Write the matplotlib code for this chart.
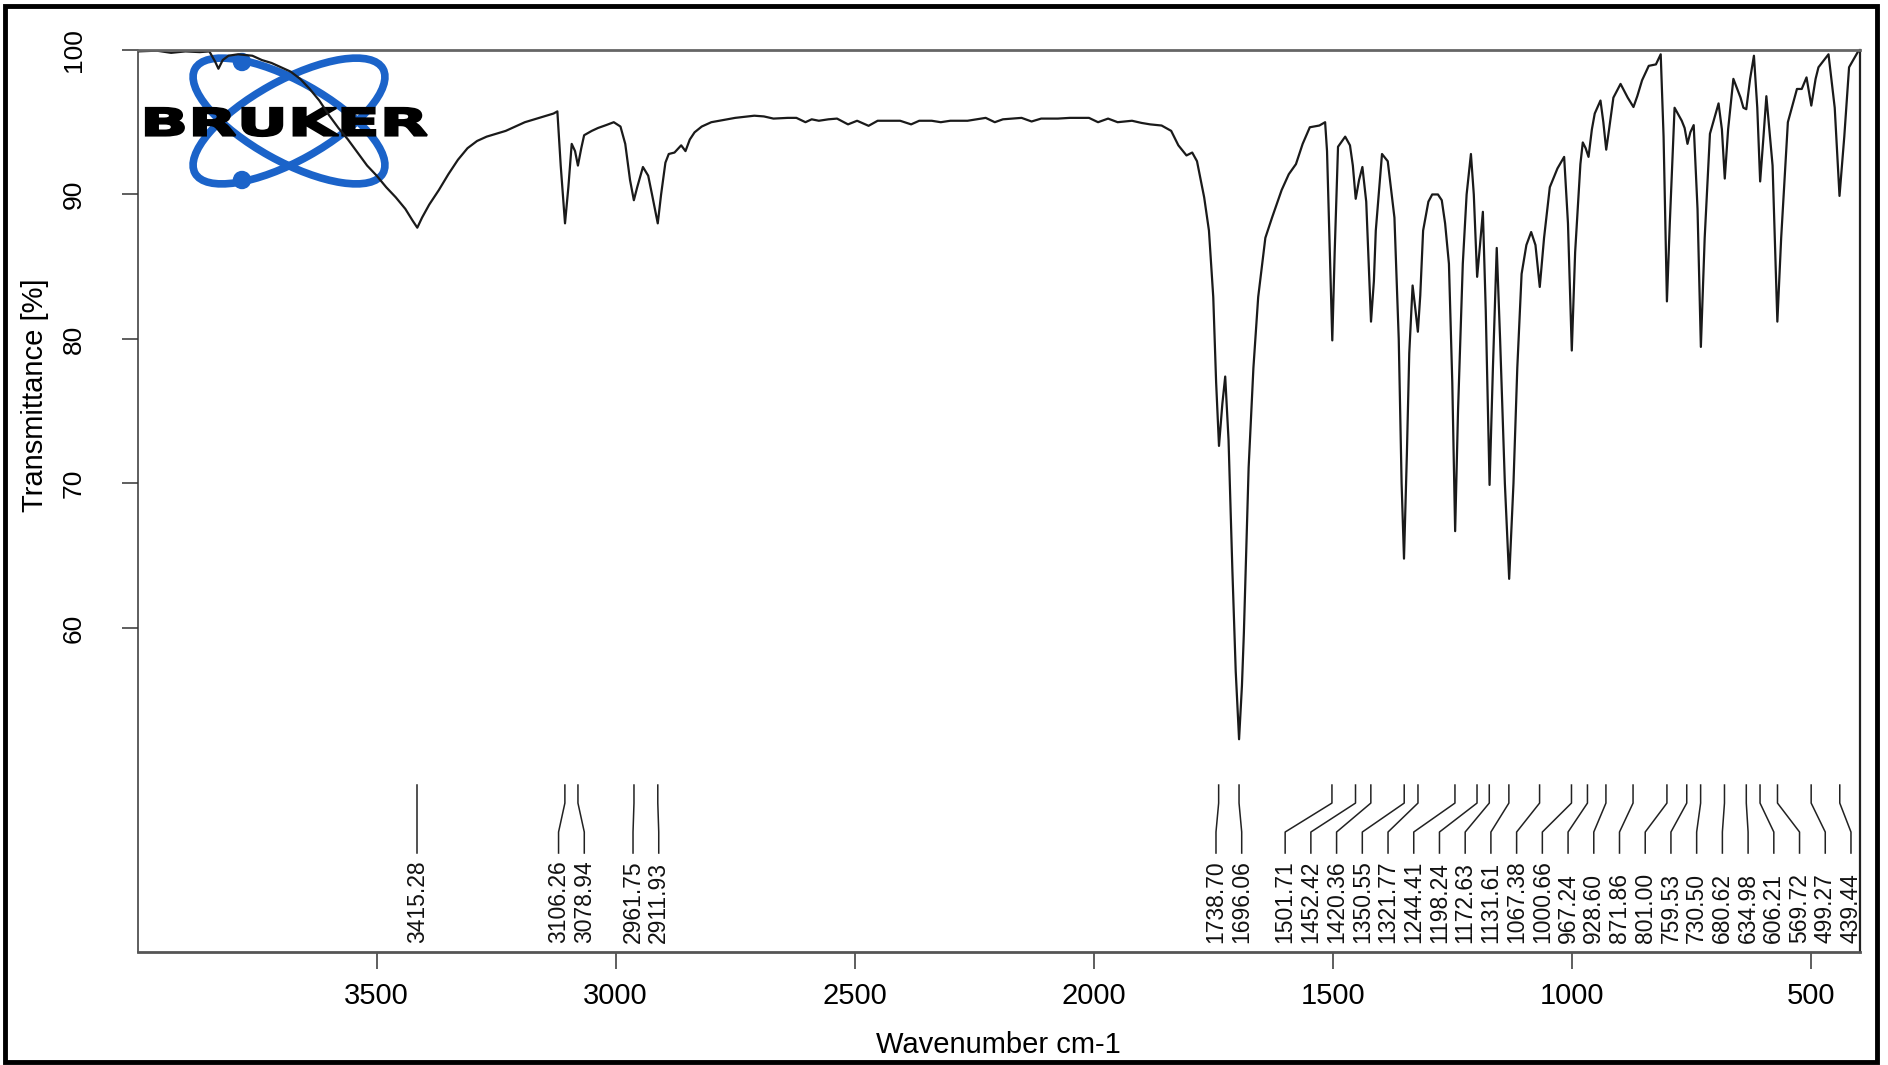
import numpy as np
import matplotlib
matplotlib.use("Agg")
import matplotlib.pyplot as plt
from matplotlib.patches import Ellipse, Circle, Rectangle, PathPatch
from matplotlib.textpath import TextPath
from matplotlib.font_manager import FontProperties
from matplotlib import transforms

plt.rcParams['font.family'] = ['Liberation Sans', 'DejaVu Sans']

# IR spectrum (wavenumber cm-1, transmittance %)
wavenumber = [4000, 3960, 3930, 3900, 3870, 3850, 3838, 3831, 3822, 3810, 3790, 3760,
              3740, 3720, 3700, 3680, 3660, 3640, 3620, 3600, 3580, 3560, 3540, 3520,
              3500, 3480, 3460, 3440, 3425, 3415, 3405, 3390, 3370, 3350, 3330, 3310,
              3290, 3270, 3250, 3230, 3210, 3190, 3170, 3150, 3130, 3122, 3115, 3106,
              3099, 3092, 3085, 3079, 3072, 3066, 3050, 3037, 3020, 3004, 2990, 2980,
              2970, 2962, 2955, 2943, 2932, 2924, 2912, 2905, 2896, 2889, 2877, 2863,
              2854, 2845, 2835, 2820, 2800, 2783, 2750, 2710, 2690, 2670, 2640, 2622,
              2603, 2590, 2575, 2555, 2537, 2514, 2495, 2471, 2452, 2430, 2405, 2382,
              2365, 2339, 2320, 2300, 2264, 2245, 2226, 2207, 2190, 2151, 2130, 2110,
              2075, 2050, 2028, 2010, 1991, 1970, 1950, 1920, 1900, 1882, 1858, 1838,
              1823, 1806, 1794, 1784, 1769, 1759, 1750, 1744, 1738, 1731, 1725, 1718,
              1710, 1703, 1696, 1690, 1686, 1676, 1666, 1656, 1641, 1627, 1607, 1592,
              1577, 1563, 1548, 1528, 1516, 1512, 1506, 1501, 1496, 1489, 1474, 1464,
              1458, 1452, 1445, 1438, 1430, 1420, 1414, 1410, 1397, 1385, 1371, 1362,
              1356, 1351, 1345, 1340, 1333, 1327, 1322, 1317, 1311, 1300, 1292, 1280,
              1272, 1265, 1257, 1250, 1244, 1238, 1228, 1220, 1211, 1205, 1198, 1192,
              1186, 1180, 1172, 1165, 1157, 1150, 1140, 1131, 1122, 1114, 1105, 1095,
              1085, 1076, 1067, 1058, 1046, 1030, 1016, 1008, 1000, 993, 982, 977,
              971, 965, 958, 952, 940, 934, 928, 922, 913, 898, 883, 871,
              863, 853, 839, 824, 814, 808, 801, 795, 785, 770, 764, 758,
              752, 745, 737, 730, 722, 711, 693, 686, 680, 673, 662, 647,
              641, 635, 627, 619, 612, 606, 599, 593, 580, 570, 562, 548,
              529, 519, 509, 499, 490, 484, 463, 450, 440, 430, 420, 401, 397]
transmittance = [99.9, 99.95, 99.8, 99.9, 99.85, 99.9, 99.2, 98.7, 99.3, 99.6, 99.7, 99.6,
                 99.3, 99.1, 98.8, 98.5, 98.0, 97.3, 96.5, 95.5, 94.6, 93.8, 92.9, 92.0,
                 91.3, 90.5, 89.8, 89.0, 88.2, 87.7, 88.4, 89.3, 90.3, 91.4, 92.4, 93.2,
                 93.7, 94.0, 94.2, 94.4, 94.7, 95.0, 95.2, 95.4, 95.6, 95.75, 92.0, 88.0,
                 90.5, 93.5, 93.0, 92.0, 93.2, 94.1, 94.4, 94.6, 94.8, 95.0, 94.7, 93.5,
                 91.0, 89.6, 90.5, 91.9, 91.3, 90.0, 88.0, 90.0, 92.2, 92.8, 92.9, 93.4,
                 93.0, 93.8, 94.3, 94.7, 95.0, 95.1, 95.3, 95.45, 95.4, 95.25, 95.3, 95.3,
                 95.0, 95.2, 95.1, 95.2, 95.25, 94.85, 95.1, 94.75, 95.1, 95.1, 95.1, 94.85,
                 95.1, 95.1, 95.0, 95.1, 95.1, 95.2, 95.3, 95.0, 95.2, 95.3, 95.05, 95.25,
                 95.25, 95.3, 95.3, 95.3, 95.0, 95.25, 95.0, 95.1, 94.95, 94.85, 94.77, 94.4,
                 93.4, 92.7, 92.9, 92.3, 89.8, 87.5, 82.9, 77.0, 72.6, 75.5, 77.4, 73.0,
                 64.0, 57.0, 52.3, 56.0, 59.6, 71.1, 78.0, 82.9, 87.0, 88.4, 90.3, 91.4,
                 92.1, 93.5, 94.65, 94.77, 95.0, 93.0, 86.0, 79.9, 86.0, 93.3, 94.0, 93.4,
                 92.0, 89.7, 91.0, 91.9, 89.5, 81.2, 84.0, 87.5, 92.8, 92.3, 88.4, 80.0,
                 70.0, 64.8, 72.0, 79.0, 83.7, 82.0, 80.5, 83.0, 87.5, 89.5, 90.0, 90.0,
                 89.6, 88.0, 85.2, 77.0, 66.7, 75.0, 85.2, 90.0, 92.8, 90.0, 84.3, 86.5,
                 88.8, 82.0, 69.9, 78.0, 86.3, 80.0, 70.0, 63.4, 70.0, 78.0, 84.5, 86.5,
                 87.4, 86.5, 83.6, 87.0, 90.5, 91.8, 92.6, 88.0, 79.2, 86.0, 92.1, 93.6,
                 93.2, 92.6, 94.5, 95.6, 96.5, 95.0, 93.1, 94.5, 96.7, 97.65, 96.7, 96.05,
                 96.8, 97.9, 98.9, 99.0, 99.7, 94.0, 82.6, 88.0, 96.0, 95.1, 94.6, 93.5,
                 94.3, 94.8, 89.0, 79.45, 87.0, 94.2, 96.3, 94.5, 91.1, 94.5, 98.0, 96.7,
                 96.0, 95.9, 98.0, 99.6, 96.0, 90.9, 94.0, 96.8, 92.0, 81.2, 87.0, 95.0,
                 97.3, 97.3, 98.1, 96.15, 98.0, 98.8, 99.7, 96.0, 89.9, 94.0, 98.8, 99.9, 99.95]

peaks = [3415.28, 3106.26, 3078.94, 2961.75, 2911.93, 1738.70, 1696.06, 1501.71,
         1452.42, 1420.36, 1350.55, 1321.77, 1244.41, 1198.24, 1172.63, 1131.61,
         1067.38, 1000.66, 967.24, 928.60, 871.86, 801.00, 759.53, 730.50, 680.62,
         634.98, 606.21, 569.72, 499.27, 439.44]

xticks = [3500, 3000, 2500, 2000, 1500, 1000, 500]
yticks = [60, 70, 80, 90, 100]


def spread(vals, gap, lo, hi):
    # labels ordered left -> right, merged into evenly spaced clusters
    u = [-v for v in vals]
    order = np.argsort(u)
    u = [u[i] for i in order]

    def place(g):
        c = np.mean([u[i] for i in g])
        p = [c + (k - (len(g) - 1) / 2) * gap for k in range(len(g))]
        if p[0] < lo:
            p = [q + lo - p[0] for q in p]
        if p[-1] > hi:
            p = [q - (p[-1] - hi) for q in p]
        return p

    groups = []
    for i in range(len(u)):
        groups.append([i])
        while len(groups) > 1:
            a, b = place(groups[-2]), place(groups[-1])
            if a[-1] + gap > b[0]:
                groups[-1] = groups[-2] + groups[-1]
                del groups[-2]
            else:
                break
    res = [0] * len(u)
    for g in groups:
        for i, p in zip(g, place(g)):
            res[order[i]] = -p
    return res


fig = plt.figure(figsize=(18.88, 10.65), dpi=100)
ax = fig.add_axes([0.0729, 0.1064, 0.9123, 0.8467])
ax.set_facecolor('none')
ax.set_zorder(2)

ax.plot(wavenumber, transmittance, color='#1a1a1a', lw=1.6)
ax.set_xlim(4000, 397)
ax.set_ylim(37.6, 100)

ax.set_xticks(xticks)
ax.set_yticks(yticks)
ax.tick_params(axis='x', length=12, width=1.1, color='#333333', pad=10, labelsize=21)
ax.tick_params(axis='y', length=11.5, width=1.1, color='#333333', pad=26, labelsize=19,
               labelrotation=90)
for lb in ax.get_yticklabels():
    lb.set_va('center')

ax.spines['top'].set_color('#666666')
ax.spines['top'].set_linewidth(2)
ax.spines['bottom'].set_color('#555555')
ax.spines['bottom'].set_linewidth(2)
ax.spines['left'].set_color('#333333')
ax.spines['left'].set_linewidth(1.1)
ax.spines['right'].set_color('#222222')
ax.spines['right'].set_linewidth(1.6)

ax.set_xlabel('Wavenumber cm-1', fontsize=21)
ax.xaxis.set_label_coords(0.5, -0.1034)
ax.xaxis.label.set_va('center')
ax.set_ylabel('Transmittance [%]', fontsize=21)
ax.yaxis.set_label_coords(-0.0596, 0.617)
ax.yaxis.label.set_va('center')

# peak labels
trans = transforms.blended_transform_factory(ax.transData, ax.transAxes)
lab_x = spread(peaks, 53.8, -4000 + 20, -416)
for p, lx in zip(peaks, lab_x):
    ax.plot([p, p, lx, lx], [0.1848, 0.1648, 0.1327, 0.1094], transform=trans,
            color='#222222', lw=1.1)
    ax.text(lx, 0.0096, f"{p:.2f}", transform=trans, rotation=90, ha='center',
            va='bottom', fontsize=16.5, color='#111111')

# Bruker logo (pixel units)
lg = fig.add_axes([130 / 1888, 1 - 200 / 1065, 310 / 1888, 160 / 1065])
lg.set_zorder(1)
lg.set_xlim(0, 310)
lg.set_ylim(0, 160)
lg.axis('off')
blue = '#1b63c9'
cx, cy = 289 - 130, 200 - 121
for ang in (29.1, -29.1):
    lg.add_patch(Ellipse((cx, cy), 215, 80, angle=ang, fill=False, ec=blue, lw=5.5))
lg.add_patch(Circle((cx - 47, cy + 59), 8.5, color=blue))
lg.add_patch(Circle((cx - 47, cy - 59), 8.5, color=blue))
tp = TextPath((0, 0), 'BRUKER', size=100, prop=FontProperties(family='DejaVu Sans', weight='bold'))
ext = tp.get_extents()
sx = (427 - 146) / ext.width
sy = (136 - 108) / ext.height
tr = transforms.Affine2D().translate(-ext.x0, -ext.y0).scale(sx, sy).translate(146 - 130, 200 - 136)
lg.add_patch(PathPatch(tr.transform_path(tp), fc='black', ec='black', lw=1.6))

# outer frame
fig.patches.append(Rectangle((0.0029, 0.0028), 0.9915, 0.9911, transform=fig.transFigure,
                             fill=False, ec='black', lw=3.5))

fig.savefig('out.png', dpi=100)
